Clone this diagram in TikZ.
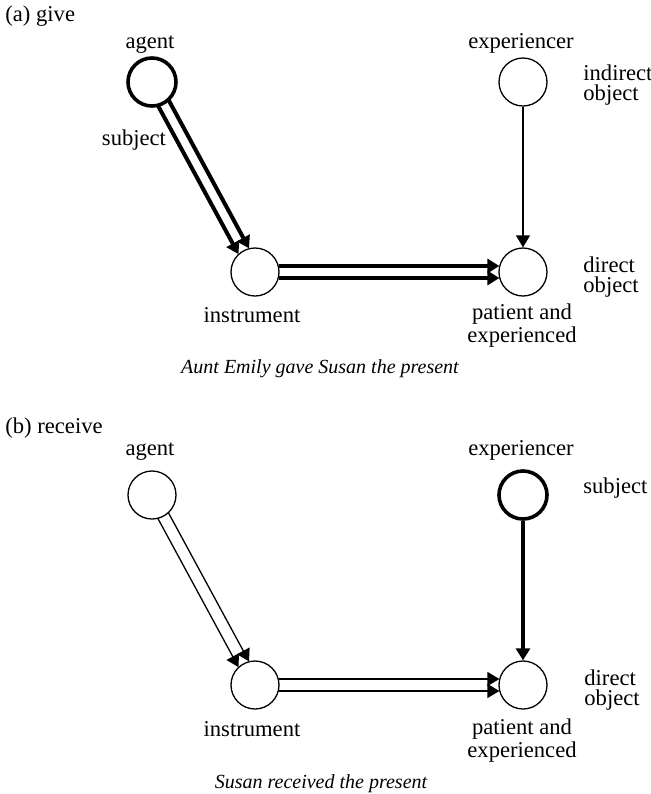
\documentclass[tikz,border=0pt]{standalone}
\usepackage{fontspec}
\setmainfont{Liberation Serif}
\usepackage{tikz}
\usetikzlibrary{calc, positioning, arrows.meta}

\tikzset{
  role/.style={circle, draw, line width=0.65pt, minimum size=24pt, inner sep=0pt},
  focus/.style={line width=1.8pt},
  lab/.style={inner sep=0pt, anchor=base},
  side/.style={inner sep=0pt, anchor=base west, align=left},
  caption/.style={inner sep=0pt, anchor=base, font=\fontsize{10}{10}\selectfont\itshape},
  link/.style={-{Triangle[length=6pt, width=7pt]}, line width=0.65pt},
  heavy/.style={line width=2pt},
}

\begin{document}
\begin{tikzpicture}[x=0.5pt, y=-0.5pt, font=\fontsize{11.3}{10}\selectfont]
  \useasboundingbox (0,0) rectangle (651,794);
  \def\gap{3pt}
  \def\rr{11.8pt}

  % (a) give
  \node[side] (tagA) at (5,21) {(a) give};
  \node[role, focus] (agA) at (152,82) {};
  \node[role] (exA) at (523,82) {};
  \node[role] (inA) at (255,272) {};
  \node[role] (paA) at (523,272) {};

  % labels (base of the last line for two-line ones)
  \node[lab] (agAlab) at (150,48) {agent};
  \node[lab] (exAlab) at (521,48) {experiencer};
  \node[side] (ioA) at (583,100) {indirect\\object};
  \node[lab] (sbA) at (134,145) {subject};
  \node[lab] (inAlab) at (252,322) {instrument};
  \node[lab, align=center] (paAlab) at (522,342) {patient and\\experienced};
  \node[side] (doA) at (583,292) {direct\\object};
  \node[caption] (capA) at (320,373) {Aunt Emily gave Susan the present};

  \foreach \s in {1,-1} {
    \draw[link, heavy, shorten <=\rr, shorten >=\rr]
      ($(agA)!\s*\gap!90:(inA)$) -- ($(inA)!\s*\gap!-90:(agA)$);
    \draw[link, heavy, shorten <=\rr, shorten >=\rr]
      ($(inA)!\s*\gap!90:(paA)$) -- ($(paA)!\s*\gap!-90:(inA)$);
  }
  \draw[link] (exA) -- (paA);

  % (b) receive
  \node[side] (tagB) at (5,433) {(b) receive};
  \node[role] (agB) at (152,495) {};
  \node[role, focus] (exB) at (523,495) {};
  \node[role] (inB) at (255,685) {};
  \node[role] (paB) at (523,685) {};

  \node[lab] (agBlab) at (150,455) {agent};
  \node[lab] (exBlab) at (521,455) {experiencer};
  \node[side] (sbB) at (583,493) {subject};
  \node[lab] (inBlab) at (252,736) {instrument};
  \node[lab, align=center] (paBlab) at (522,757) {patient and\\experienced};
  \node[side] (doB) at (584,705) {direct\\object};
  \node[caption] (capB) at (321,788) {Susan received the present};

  \foreach \s in {1,-1} {
    \draw[link, shorten <=\rr, shorten >=\rr]
      ($(agB)!\s*\gap!90:(inB)$) -- ($(inB)!\s*\gap!-90:(agB)$);
    \draw[link, shorten <=\rr, shorten >=\rr]
      ($(inB)!\s*\gap!90:(paB)$) -- ($(paB)!\s*\gap!-90:(inB)$);
  }
  \draw[link, heavy] (exB) -- (paB);
\end{tikzpicture}
\end{document}
